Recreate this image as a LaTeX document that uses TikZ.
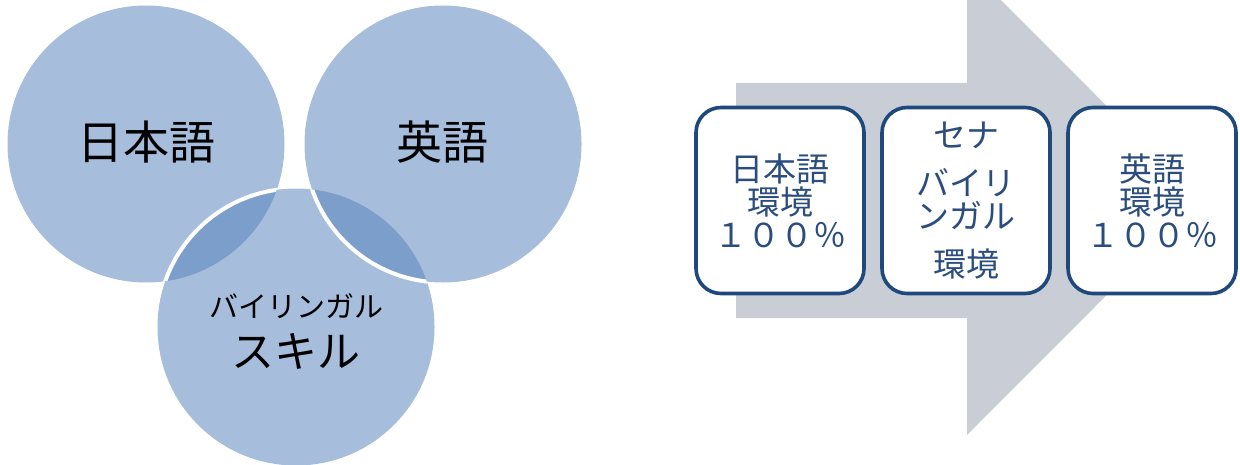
\documentclass[tikz,border=0pt]{standalone}
\usepackage{fontspec}
\newfontfamily\jp{Noto Sans CJK JP}
\definecolor{circfill}{HTML}{A6BEDC}
\definecolor{lensfill}{HTML}{7B9ECB}
\definecolor{arrowgray}{HTML}{C9CDD6}
\definecolor{boxline}{HTML}{1F497D}
\definecolor{boxtext}{HTML}{2B4D7E}
\tikzset{
  envbox/.style={draw=boxline, line width=1.8pt, fill=white, rounded corners=12.5pt,
    minimum width=84pt, minimum height=93pt, inner sep=0pt},
  envtext/.style={text=boxtext, font=\jp\fontsize{16.5}{16.5}\selectfont, align=center},
  biglabel/.style={font=\jp\fontsize{23}{23}\selectfont},
  whiteedge/.style={draw=white, line width=2pt}
}
\begin{document}
\begin{tikzpicture}[x=0.5pt,y=-0.5pt]
  \path[use as bounding box, clip] (0,0) rectangle (1240,465);
  \coordinate (c1) at (146,144);
  \coordinate (c2) at (443,144);
  \coordinate (c3) at (296,327);
  \fill[circfill] (c1) circle[radius=138.5];
  \fill[circfill] (c2) circle[radius=138.5];
  \fill[circfill] (c3) circle[radius=138.5];
  \begin{scope}
    \clip (c1) circle[radius=138.5];
    \fill[lensfill] (c3) circle[radius=138.5];
    \draw[whiteedge] (c3) circle[radius=138.5];
  \end{scope}
  \begin{scope}
    \clip (c2) circle[radius=138.5];
    \fill[lensfill] (c3) circle[radius=138.5];
  \end{scope}
  \begin{scope}
    \clip (c3) circle[radius=138.5];
    \draw[whiteedge] (c2) circle[radius=138.5];
  \end{scope}
  \node[biglabel] (jaLabel) at (146,142) {日本語};
  \node[biglabel] (enLabel) at (442,142) {英語};
  \node[font=\jp\fontsize{14.5}{14.5}\selectfont] (biLabel) at (296,306) {バイリンガル};
  \node[font=\jp\fontsize{21.5}{21.5}\selectfont] (skillLabel) at (296,351) {スキル};

  \fill[arrowgray] (736,83) -- (967,83) -- (967,-34) -- (1201,200.5)
    -- (967,435) -- (967,318) -- (736,318) -- cycle;
  \node[envbox] (jaBox) at (780,200.5) {};
  \node[envbox] (biBox) at (966,200.5) {};
  \node[envbox] (enBox) at (1152,200.5) {};
  \node[envtext] (jaText) at (jaBox) {日本語\\環境\\１００％};
  \node[envtext] (biText) at (biBox) {セナ\\[7.5pt]バイリ\\ンガル\\[7.5pt]環境};
  \node[envtext] (enText) at (enBox) {英語\\環境\\１００％};
\end{tikzpicture}
\end{document}
